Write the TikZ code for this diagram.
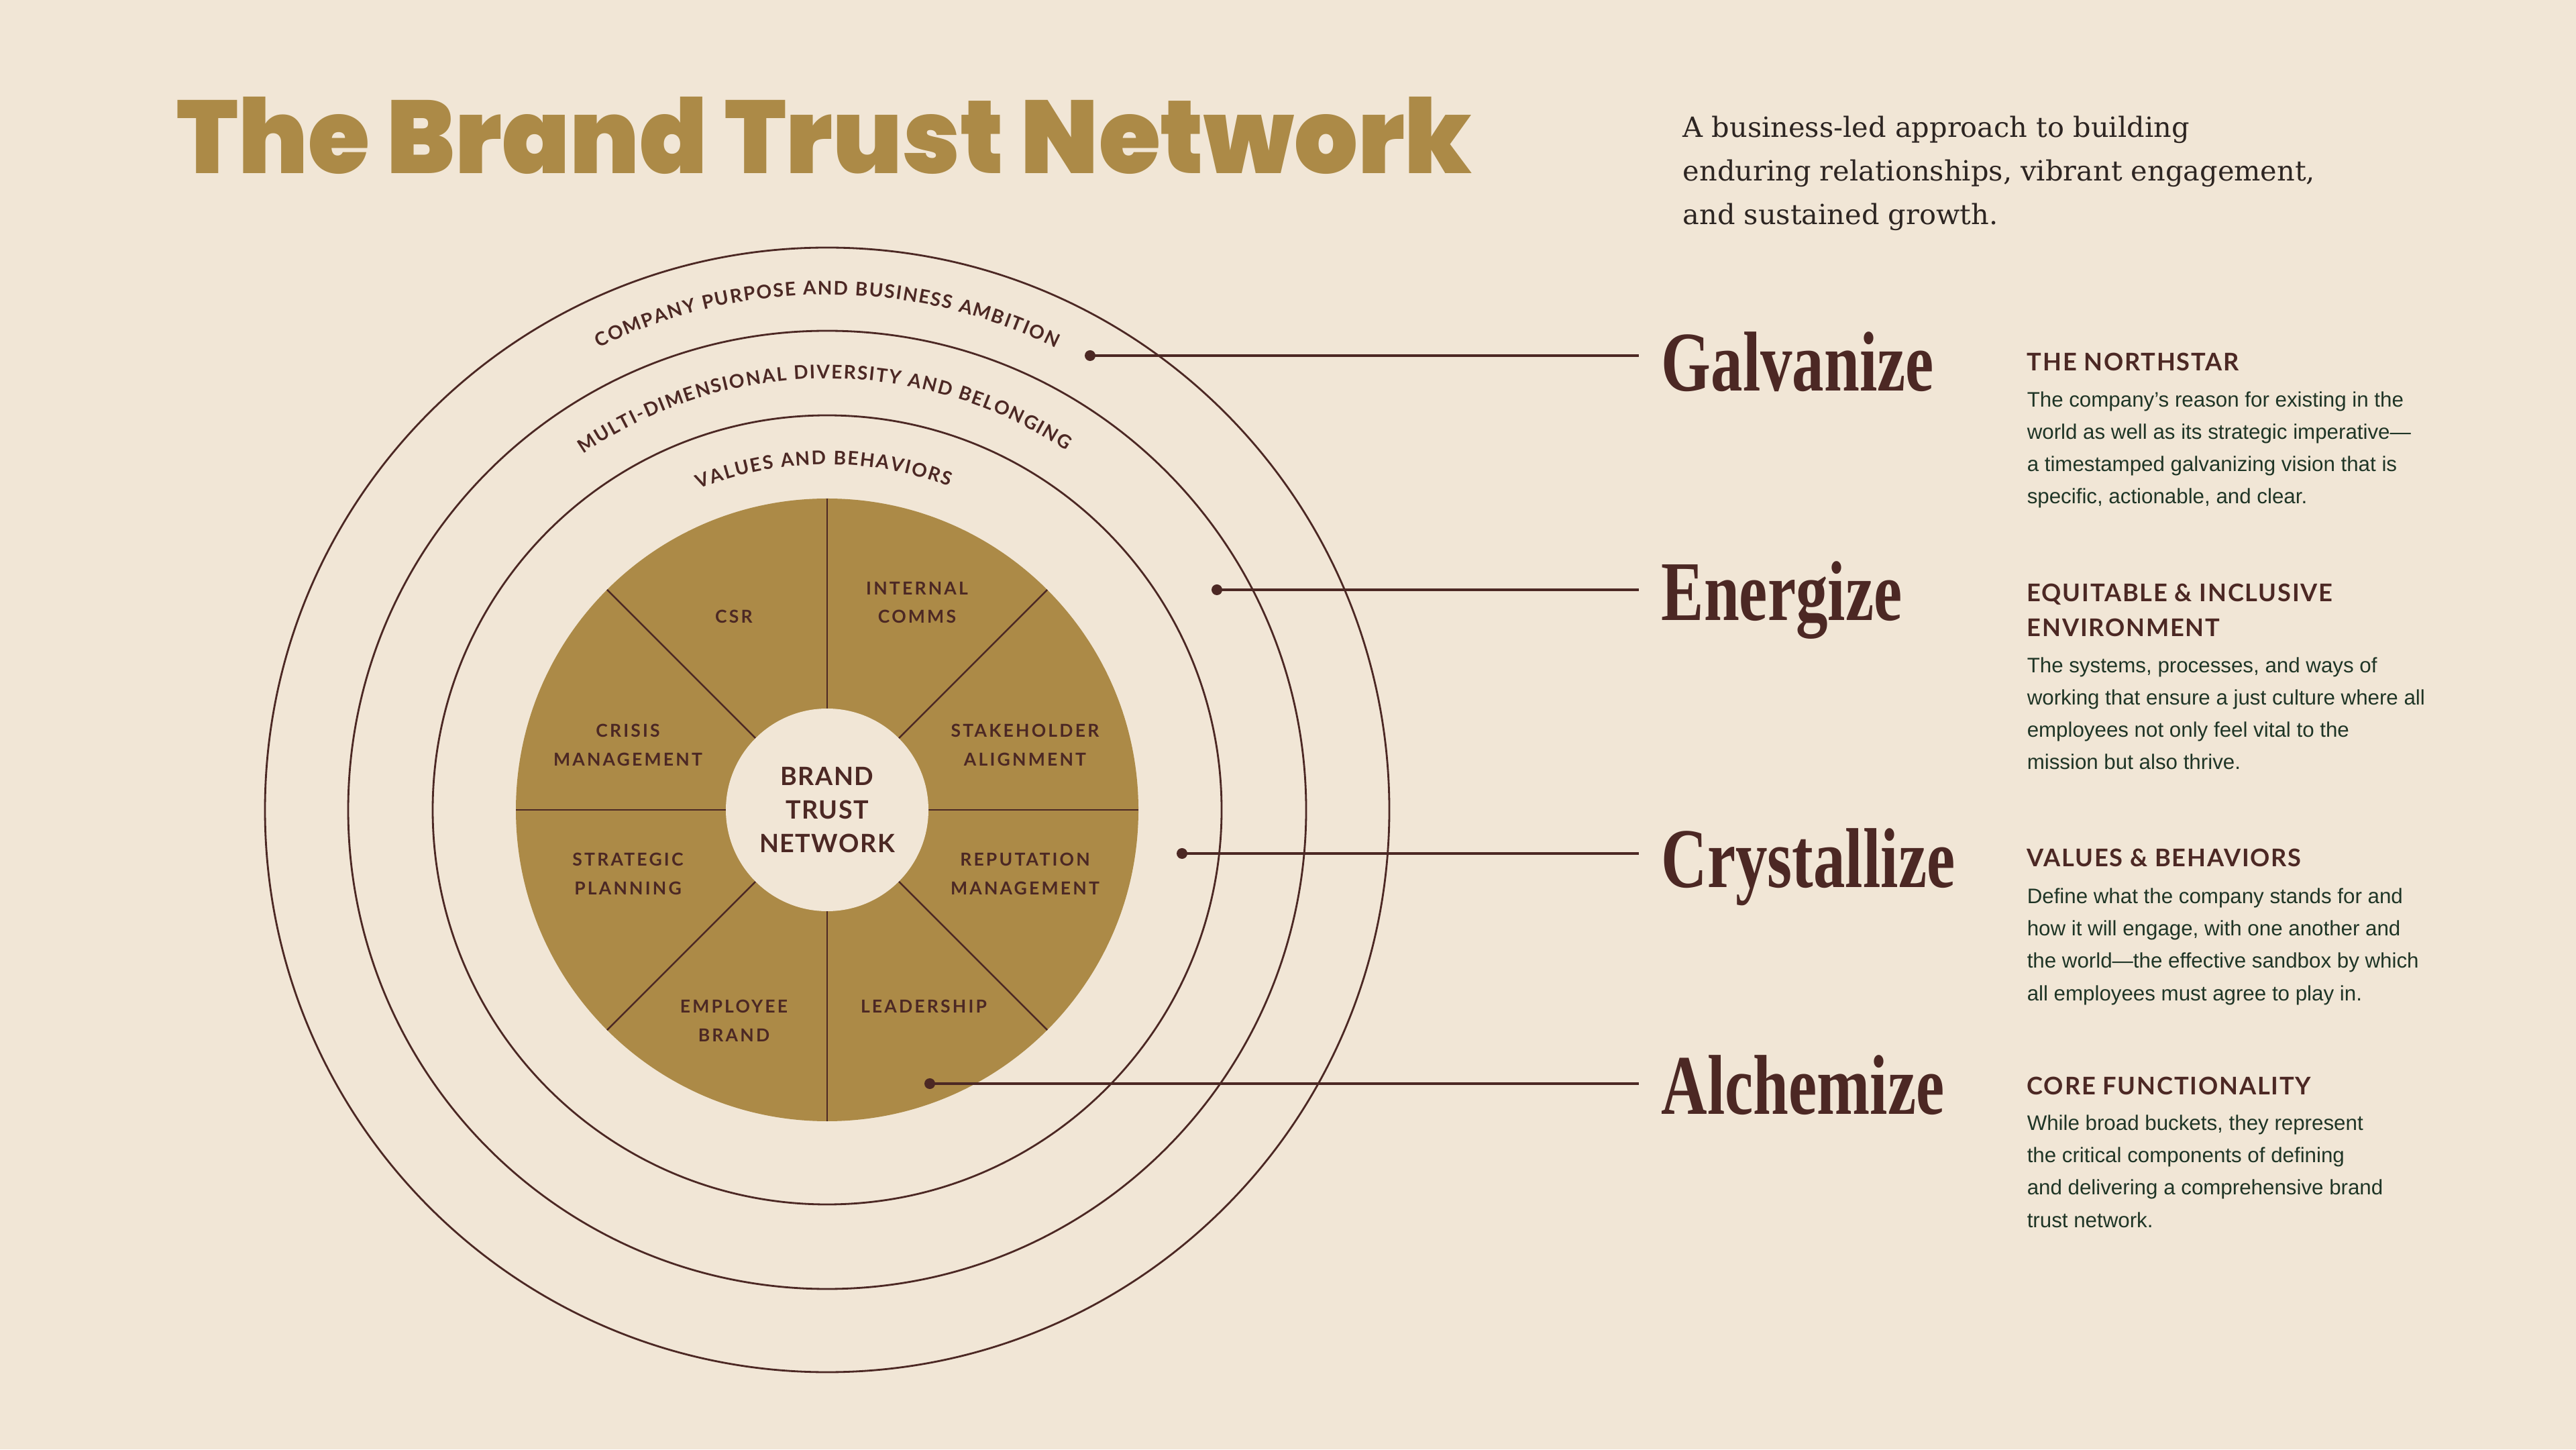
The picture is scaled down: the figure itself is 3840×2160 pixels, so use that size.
\documentclass[tikz,border=0pt]{standalone}
\usepackage{fontspec}
\usepackage{graphicx}
\usepackage{tikz}
\setmainfont{Liberation Serif}
\newfontfamily\titlefont{Poppins Black}
\newfontfamily\subfont{DejaVu Serif}
\newfontfamily\capsfont[LetterSpace=12]{Lato}
\newfontfamily\hubfont[LetterSpace=4]{Lato}
\newfontfamily\headfont[LetterSpace=5]{Lato}
\newfontfamily\arcfont{Lato}
\newfontfamily\bodyfont{Liberation Sans}
\definecolor{paper}{HTML}{F1E6D6}
\definecolor{gold}{HTML}{AC8A47}
\definecolor{cocoa}{HTML}{4C2824}
\definecolor{pine}{HTML}{1F3526}
\definecolor{ink}{HTML}{2D2522}
\usetikzlibrary{decorations.text, positioning}

\tikzset{
  ring/.style={draw=cocoa, line width=0.8pt},
  spoke/.style={draw=cocoa, line width=0.7pt},
  seglabel/.style={text=cocoa, font=\capsfont\bfseries\fontsize{7.55}{12.2}\selectfont, align=center, inner sep=0},
  hublabel/.style={text=cocoa, font=\hubfont\bfseries\fontsize{10.7}{14.2}\selectfont, align=center, inner sep=0},
  pin/.style={circle, fill=cocoa, inner sep=0, minimum size=0.16cm},
  link/.style={draw=cocoa, line width=1.3pt},
  stage/.style={text=cocoa, font=\bfseries\fontsize{36}{36}\selectfont, anchor=base west, inner sep=0},
  heading/.style={text=cocoa, font=\headfont\bfseries\fontsize{10.3}{14.8}\selectfont, align=left, anchor=base west, inner sep=0},
  blurb/.style={text=pine, font=\bodyfont\fontsize{8.9}{13.66}\selectfont, align=left, anchor=base west, inner sep=0},
  subline/.style={text=ink, font=\subfont\fontsize{11.8}{18.5}\selectfont, align=left, anchor=base west, inner sep=0},
  bandtext/.style={decorate, decoration={text along path, text color=cocoa, text align={fit to path}, text={#1}}}
}

\begin{document}
\begin{tikzpicture}[x=0.01cm, y=0.01cm]
    \fill[paper] (0,0) rectangle (3840,2160);
    \useasboundingbox (0,0) rectangle (3840,2160);

    \node[anchor=south west, inner sep=0, text=gold] (title) at (263,1900)
        {\resizebox{19.29cm}{1.14cm}{\titlefont The Brand Trust Network}};
    \node[subline] (sub) at (2508,1825)
        {A business-led approach to building\\enduring relationships, vibrant engagement,\\and sustained growth.};

    \coordinate (hub) at (1233,953);
    \draw[ring] (hub) circle[radius=838];
    \draw[ring] (hub) circle[radius=714];
    \draw[ring] (hub) circle[radius=588];
    \fill[gold] (hub) circle[radius=464];
    \foreach \a in {0,45,...,315}
        \draw[spoke] (hub) -- ++(\a:464);
    \fill[paper] (hub) circle[radius=151];
    \node[hublabel] (core) at (hub) {BRAND\\TRUST\\NETWORK};

    \node[seglabel] (csr) at (1094,1241) {CSR};
    \node[seglabel] (comms) at (1367,1262) {INTERNAL\\COMMS};
    \node[seglabel] (crisis) at (936,1050) {CRISIS\\MANAGEMENT};
    \node[seglabel] (stake) at (1528,1050) {STAKEHOLDER\\ALIGNMENT};
    \node[seglabel] (strat) at (936,858) {STRATEGIC\\PLANNING};
    \node[seglabel] (repu) at (1528,858) {REPUTATION\\MANAGEMENT};
    \node[seglabel] (employ) at (1094,639) {EMPLOYEE\\BRAND};
    \node[seglabel] (lead) at (1377,660) {LEADERSHIP};

    \path[bandtext={|\arcfont\bfseries\fontsize{8}{8}\selectfont|COMPANY PURPOSE AND BUSINESS AMBITION}]
        ([shift={(116.3:768)}]hub) arc[start angle=116.3, end angle=63.7, radius=768];
    \path[bandtext={|\arcfont\bfseries\fontsize{8}{8}\selectfont|MULTI-DIMENSIONAL DIVERSITY AND BELONGING}]
        ([shift={(124.4:643)}]hub) arc[start angle=124.4, end angle=56.4, radius=643];
    \path[bandtext={|\arcfont\bfseries\fontsize{8}{8}\selectfont|VALUES AND BEHAVIORS}]
        ([shift={(111.8:515)}]hub) arc[start angle=111.8, end angle=69.3, radius=515];

    \node[pin] (p1) at (1625,1630) {};
    \node[pin] (p2) at (1814,1281) {};
    \node[pin] (p3) at (1762,888) {};
    \node[pin] (p4) at (1386,545) {};

    \node[stage] (galv) at (2476,1577) {\scalebox{0.75}[1]{Galvanize}};
    \node[stage] (ener) at (2476,1235) {\scalebox{0.75}[1]{Energize}};
    \node[stage] (crys) at (2476,837) {\scalebox{0.75}[1]{Crystallize}};
    \node[stage] (alch) at (2476,500) {\scalebox{0.75}[1]{Alchemize}};

    \coordinate (e1) at ([xshift=-0.33cm]galv.west |- p1.center);
    \coordinate (e2) at ([xshift=-0.33cm]ener.west |- p2.center);
    \coordinate (e3) at ([xshift=-0.33cm]crys.west |- p3.center);
    \coordinate (e4) at ([xshift=-0.33cm]alch.west |- p4.center);
    \draw[link] (p1.center) -- (e1);
    \draw[link] (p2.center) -- (e2);
    \draw[link] (p3.center) -- (e3);
    \draw[link] (p4.center) -- (e4);

    \node[heading] (h1) at (3021,1607) {THE NORTHSTAR};
    \node[blurb] (b1) at (3021,1409)
        {The company’s reason for existing in the\\world as well as its strategic imperative—\\a timestamped galvanizing vision that is\\specific, actionable, and clear.};
    \node[heading] (h2) at (3021,1211) {EQUITABLE \& INCLUSIVE\\ENVIRONMENT};
    \node[blurb] (b2) at (3021,1013)
        {The systems, processes, and ways of\\working that ensure a just culture where all\\employees not only feel vital to the\\mission but also thrive.};
    \node[heading] (h3) at (3021,868) {VALUES \& BEHAVIORS};
    \node[blurb] (b3) at (3021,669)
        {Define what the company stands for and\\how it will engage, with one another and\\the world—the effective sandbox by which\\all employees must agree to play in.};
    \node[heading] (h4) at (3021,529) {CORE FUNCTIONALITY};
    \node[blurb] (b4) at (3021,331)
        {While broad buckets, they represent\\the critical components of defining\\and delivering a comprehensive brand\\trust network.};
\end{tikzpicture}
\end{document}
